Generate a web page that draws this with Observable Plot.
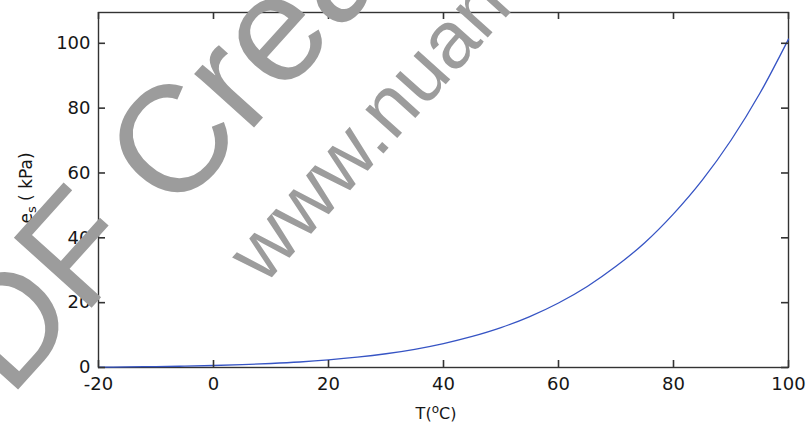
<!DOCTYPE html>
<html><head><meta charset="utf-8">
<script src="https://cdn.jsdelivr.net/npm/d3@7"></script>
<script src="https://cdn.jsdelivr.net/npm/@observablehq/plot@0.6"></script>
<style>
body{margin:0;background:#fff;}
#wrap{position:relative;width:809px;height:423px;overflow:hidden;background:#fff;}
#wm{position:absolute;left:0;top:0;pointer-events:none;}
</style></head><body>
<div id="wrap"></div>
<script>
// Saturation vapour pressure
const temperature = [-20,-15,-10,-5,0,5,10,15,20,25,30,35,40,45,50,55,60,65,70,75,80,85,90,95,100];
const pressure    = [0.10,0.19,0.29,0.42,0.61,0.87,1.23,1.70,2.34,3.17,4.24,5.62,7.38,9.58,12.3,15.7,19.9,25.0,31.2,38.5,47.4,57.8,70.1,84.5,101.3];
const xTicks = [-20,0,20,40,60,80,100];
const yTicks = [0,20,40,60,80,100];
const watermarkTitle = "PDF Creator";
const watermarkUrl = "www.nuance.com";

const data = temperature.map((t,i)=>({t, e: pressure[i]}));
const W=809, H=423, mL=98, mR=21, mT=12, mB=56;
const frameW = W - mL - mR, frameH = H - mT - mB, tick = 7;
const axisColor="#333333", textColor="#161616";
const fmt = d => String(d);
const tickStyle = {stroke: axisColor, strokeWidth: 1.6};

const chart = Plot.plot({
  width: W, height: H, marginLeft: mL, marginRight: mR, marginTop: mT, marginBottom: mB,
  style: {fontFamily:"DejaVu Sans", fontSize:"18px", color:textColor, background:"#fff"},
  x: {domain:[-20,100], axis:null},
  y: {domain:[0,109.5], axis:null},
  marks: [
    Plot.frame({stroke: axisColor, strokeWidth:1.4}),
    Plot.line(data, {x:"t", y:"e", stroke:"#3654c4", strokeWidth:1.3, curve:"monotone-x"}),
    // inward ticks on all four sides
    Plot.ruleX(xTicks, {x: d=>d, y1: 0, y2: 0, insetTop: -tick, ...tickStyle}),
    Plot.ruleX(xTicks, {x: d=>d, insetBottom: frameH - tick, ...tickStyle}),
    Plot.ruleY(yTicks, {y: d=>d, x1: -20, x2: -20, insetRight: -tick, ...tickStyle}),
    Plot.ruleY(yTicks, {y: d=>d, insetLeft: frameW - tick, ...tickStyle}),
    Plot.axisX({ticks:xTicks, anchor:"bottom", tickSize:0, tickPadding:10, tickFormat:fmt, label:null, fontSize:18, fill:textColor}),
    Plot.axisY({ticks:yTicks, anchor:"left", tickSize:0, tickPadding:8, tickFormat:fmt, label:null, fontSize:18, fill:textColor})
  ]
});
document.getElementById("wrap").appendChild(chart);

const svg = d3.select(chart);
// x label T(°C)
const xl = svg.append("text").attr("x", 436).attr("y", 419).attr("text-anchor","middle")
  .attr("font-family","DejaVu Sans").attr("font-size",16).attr("fill",textColor);
xl.append("tspan").text("T(");
xl.append("tspan").attr("dy",-6).attr("font-size",12).text("o");
xl.append("tspan").attr("dy",6).text("C)");
// y label e_s ( kPa)
const yl = svg.append("text").attr("transform","translate(32,188) rotate(-90)").attr("text-anchor","middle")
  .attr("font-family","DejaVu Sans").attr("font-size",17).attr("fill",textColor);
yl.append("tspan").text("e");
yl.append("tspan").attr("dy",4).attr("font-size",13).text("s");
yl.append("tspan").attr("dy",-4).text(" ( kPa)");

// watermark overlay
const wm = d3.select("#wrap").append("svg").attr("id","wm").attr("width",W).attr("height",H);
wm.append("text").attr("transform","translate(-58,474) rotate(-48)")
  .attr("font-family","Liberation Sans").attr("font-size",152).attr("fill","#9c9c9c").text(watermarkTitle);
wm.append("text").attr("transform","translate(264,286) rotate(-48)")
  .attr("font-family","Liberation Sans").attr("font-size",81).attr("fill","#9c9c9c").text(watermarkUrl);
</script>
</body></html>
